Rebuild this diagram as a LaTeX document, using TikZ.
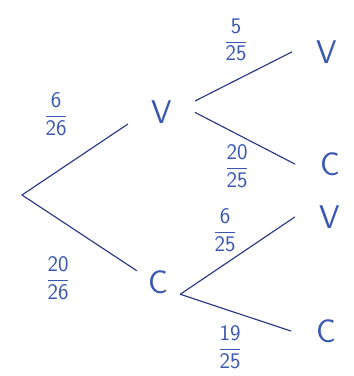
\documentclass[tikz,border=0pt]{standalone}
\usepackage{tikz}
\usetikzlibrary{positioning}
\definecolor{InkBlue}{RGB}{58,88,178}
\definecolor{InkLine}{RGB}{44,60,132}
\newcommand{\probfrac}[2]{$\displaystyle\frac{\textsf{#1}}{\textsf{#2}}$}
\tikzset{
  branch/.style={draw=InkLine,line width=1pt,line cap=round},
  letterbox/.style={text=InkBlue,inner sep=0pt,font=\fontsize{28}{32}\selectfont\sffamily},
  leafbox/.style={letterbox,minimum width=2.1cm},
  probnode/.style={text=InkBlue,inner sep=0pt,font=\fontsize{19}{22}\selectfont\sffamily}
}
\begin{document}
\begin{tikzpicture}[x=0.03cm,y=-0.03cm]
  \useasboundingbox (0,0) rectangle (353,376);
  % root and first level
  \coordinate (root) at (22,195);
  \node[letterbox,minimum width=2.01cm,minimum height=0.27cm] (v1) at (161.5,112.5) {V};
  \node[letterbox,minimum width=1.29cm,minimum height=0.3cm] (c1) at (158.5,282.5) {C};
  % second level
  \node[leafbox] (vv) at (327,52) {V};
  \node[leafbox] (vc) at (330,164) {C};
  \node[leafbox] (cv) at (330,217) {V};
  \node[leafbox] (cc) at (326,331) {C};
  \draw[branch] (root) -- (v1.south west);
  \draw[branch] (root) -- (c1.north west);
  \draw[branch] (v1.north east) -- (vv.west);
  \draw[branch] (v1.east) -- (vc.west);
  \draw[branch] (c1.south east) -- (cv.west);
  \draw[branch] (c1.south east) -- (cc.west);
  % probabilities
  \node[probnode] (pv) at (56,114) {\probfrac{6}{26}};
  \node[probnode] (pc) at (58,278) {\probfrac{20}{26}};
  \node[probnode] (pvv) at (236,40) {\probfrac{5}{25}};
  \node[probnode] (pvc) at (237,166) {\probfrac{20}{25}};
  \node[probnode] (pcv) at (225,230) {\probfrac{6}{25}};
  \node[probnode] (pcc) at (230,347) {\probfrac{19}{25}};
\end{tikzpicture}
\end{document}
